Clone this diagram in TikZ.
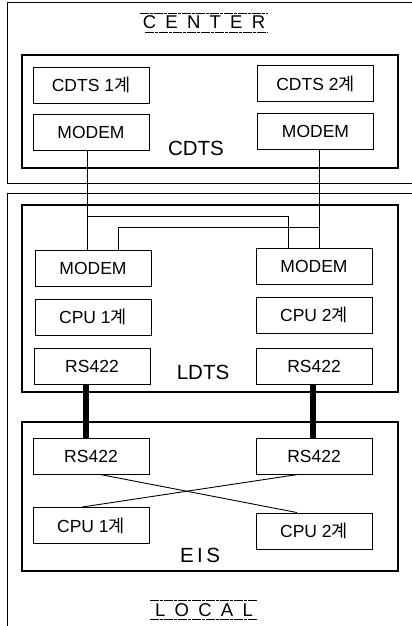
\documentclass[tikz,border=0pt]{standalone}
\usepackage{fontspec}
\setmainfont{Liberation Sans}
\newfontfamily\kr{Noto Sans CJK KR}
\begin{document}
\begin{tikzpicture}[x=1bp,y=-1bp,
  unit/.style={draw,line width=0.9bp,minimum width=116bp,minimum height=36bp,
    inner sep=0pt,font=\fontsize{17.5bp}{19bp}\selectfont},
  group/.style={draw,line width=1.6bp},
  frame/.style={draw,line width=1bp},
  wire/.style={line width=0.9bp},
  bus/.style={line width=5.5bp},
  grouplabel/.style={font=\fontsize{20.5bp}{22bp}\selectfont},
  sitelabel/.style={font=\fontsize{18.5bp}{20bp}\selectfont},
  rule/.style={line width=0.8bp,dash pattern=on 9bp off 1bp on 3bp off 1bp}]
\useasboundingbox (0,0) rectangle (411,626);

% site frames
\draw[frame] (414,3) -- (7,3) -- (7,183) -- (414,183);
\draw[frame] (414,193) -- (7,193) -- (7,630);

% site titles with their rules
\node[sitelabel] (center) at (204,22) {C\,\,\,E\,\,\,N\,\,\,T\,\,\,E\,\,\,R};
\draw[rule] (140,13) -- (268,13);
\draw[rule] (145,32) -- (268,32);
\node[sitelabel] (local) at (204,610) {L\,\,\,O\,\,\,C\,\,\,A\,\,\,L};
\draw[rule] (150,600) -- (258,600);
\draw[rule] (150,619) -- (258,619);

% subsystem enclosures
\draw[group] (22,55) rectangle (398,168);
\draw[group] (22,205) rectangle (398,392);
\draw[group] (22,422) rectangle (398,571);
\node[grouplabel] (cdts) at (196,148) {CDTS};
\node[grouplabel] (ldts) at (203,372) {LDTS};
\node[grouplabel] (eis) at (200,555) {E\,I\,S};

% CDTS units
\node[unit] (c1) at (91,85) {CDTS 1{\kr 계}};
\node[unit] (c2) at (315.5,83.5) {CDTS 2{\kr 계}};
\node[unit] (cmL) at (91,132) {MODEM};
\node[unit] (cmR) at (315.5,131) {MODEM};

% LDTS units
\node[unit] (lmL) at (93,268) {MODEM};
\node[unit] (lmR) at (314,266.5) {MODEM};
\node[unit] (lcL) at (93,317) {CPU 1{\kr 계}};
\node[unit] (lcR) at (314,315) {CPU 2{\kr 계}};
\node[unit] (lrL) at (92,366.5) {RS422};
\node[unit] (lrR) at (314,366) {RS422};

% EIS units
\node[unit] (erL) at (91,456) {RS422};
\node[unit] (erR) at (314,456) {RS422};
\node[unit] (ecL) at (91,525.5) {CPU 1{\kr 계}};
\node[unit] (ecR) at (314,531) {CPU 2{\kr 계}};

% modem links
\coordinate (aL) at ([xshift=-4bp]cmL.south);
\coordinate (aR) at ([xshift=3.5bp]cmR.south);
\draw[wire] (aL) -- (aL |- lmL.north);
\draw[wire] (aR) -- (aR |- lmR.north);
\draw[wire] (aL |- 0,216) -| ([xshift=-26bp]lmR.north);
\draw[wire] (aR |- 0,227) -| ([xshift=25bp]lmL.north);

% RS422 buses
\draw[bus] ([xshift=-6bp]lrL.south) -- ([xshift=-6bp]lrL.south |- erL.north);
\draw[bus] ([xshift=-1bp]lrR.south) -- ([xshift=-1bp]lrR.south |- erR.north);

% crossed links inside EIS
\draw[wire] ([xshift=9bp]erL.south) -- ([xshift=-17bp]ecR.north);
\draw[wire] ([xshift=-16bp]erR.south) -- ([xshift=-9bp]ecL.north);
\end{tikzpicture}
\end{document}
